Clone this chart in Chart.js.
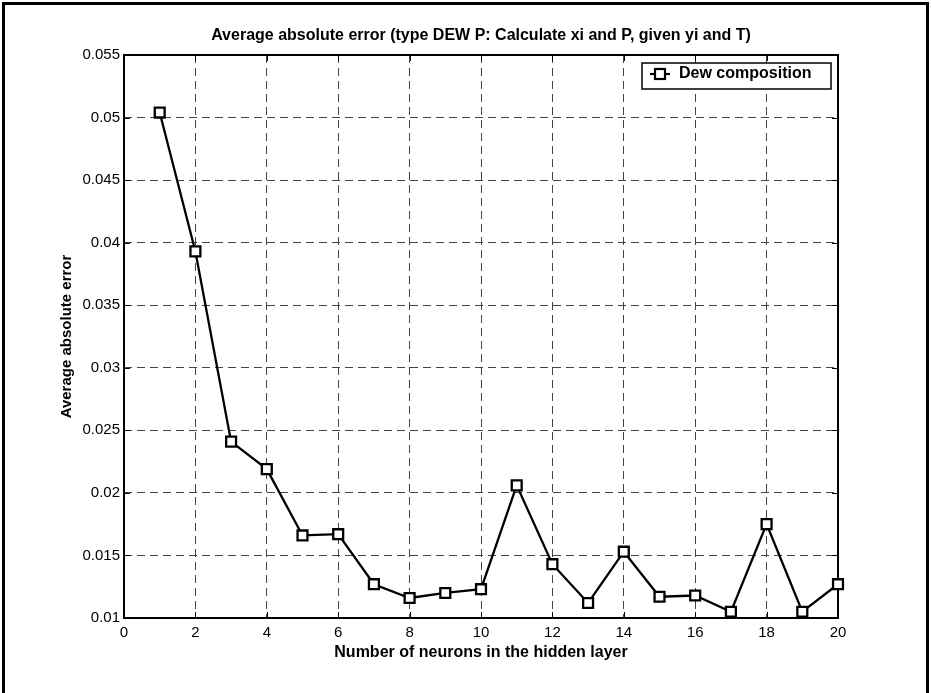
<!DOCTYPE html>
<html>
<head>
<meta charset="utf-8">
<script src="https://cdn.jsdelivr.net/npm/chart.js@4/dist/chart.umd.min.js"></script>
<style>
  html, body { margin: 0; padding: 0; background: #fff; }
  #wrap { width: 931px; height: 693px; }
</style>
</head>
<body>
<div id="wrap"><canvas id="errChart" width="931" height="693"></canvas></div>
<script>
var chartTitle = 'Average absolute error (type DEW P: Calculate xi and P, given yi and T)';
var xTitle = 'Number of neurons in the hidden layer';
var yTitle = 'Average absolute error';
var seriesLabel = 'Dew composition';

var neurons = [1, 2, 3, 4, 5, 6, 7, 8, 9, 10, 11, 12, 13, 14, 15, 16, 17, 18, 19, 20];
var avgError = [0.0504, 0.0393, 0.0241, 0.0219, 0.0166, 0.0167, 0.0127, 0.0116, 0.0120, 0.0123,
                0.0206, 0.0143, 0.0112, 0.0153, 0.0117, 0.0118, 0.0105, 0.0175, 0.0105, 0.0127];

var xTicks = [0, 2, 4, 6, 8, 10, 12, 14, 16, 18, 20];
var yTicks = [0.01, 0.015, 0.02, 0.025, 0.03, 0.035, 0.04, 0.045, 0.05, 0.055];

var fontFamily = '"Liberation Sans", Arial, Helvetica, sans-serif';

// matlab-like frame: box, inner ticks, title, legend
var matlabFrame = {
    id: 'matlabFrame',
    beforeDraw: function(chart) {
        var ctx = chart.ctx;
        ctx.save();
        ctx.fillStyle = '#fff';
        ctx.fillRect(0, 0, chart.width, chart.height);
        ctx.restore();
    },
    beforeDatasetsDraw: function(chart) {
        var ctx = chart.ctx;
        var a = chart.chartArea;
        var xs = chart.scales.x, ys = chart.scales.y;
        ctx.save();
        ctx.strokeStyle = '#000';
        ctx.lineWidth = 1;
        ctx.beginPath();
        xs.ticks.forEach(function(t) {
            var px = Math.round(xs.getPixelForValue(t.value)) + 0.5;
            ctx.moveTo(px, a.bottom); ctx.lineTo(px, a.bottom - 6);
            ctx.moveTo(px, a.top); ctx.lineTo(px, a.top + 6);
        });
        ys.ticks.forEach(function(t) {
            var py = Math.round(ys.getPixelForValue(t.value)) + 0.5;
            ctx.moveTo(a.left, py); ctx.lineTo(a.left + 6, py);
            ctx.moveTo(a.right, py); ctx.lineTo(a.right - 6, py);
        });
        ctx.stroke();
        ctx.lineWidth = 2;
        ctx.strokeRect(a.left, a.top, a.right - a.left, a.bottom - a.top);
        ctx.restore();
    },
    afterDraw: function(chart) {
        var ctx = chart.ctx;
        var a = chart.chartArea;
        ctx.save();
        // outer figure border
        ctx.strokeStyle = '#000';
        ctx.lineWidth = 3;
        ctx.strokeRect(3.5, 3.5, chart.width - 7, chart.height + 10);

        // title
        ctx.fillStyle = '#000';
        ctx.font = 'bold 16px ' + fontFamily;
        ctx.textAlign = 'center';
        ctx.textBaseline = 'middle';
        ctx.fillText(chartTitle, (a.left + a.right) / 2, 36);

        // legend box
        var ds = chart.data.datasets[0];
        var bw = 189, bh = 26;
        var bx = a.right - 7 - bw, by = a.top + 8;
        ctx.fillStyle = '#fff';
        ctx.fillRect(bx, by, bw, bh);
        ctx.lineWidth = 1.5;
        ctx.strokeRect(bx, by, bw, bh);
        var my = by + 11;
        ctx.lineWidth = 2.2;
        ctx.beginPath();
        ctx.moveTo(bx + 8, my); ctx.lineTo(bx + 28, my);
        ctx.stroke();
        ctx.fillStyle = '#fff';
        ctx.fillRect(bx + 13, my - 5, 10, 10);
        ctx.strokeRect(bx + 13, my - 5, 10, 10);
        ctx.fillStyle = '#000';
        ctx.font = 'bold 16px ' + fontFamily;
        ctx.textAlign = 'left';
        ctx.fillText(ds.label, bx + 37, my);
        ctx.restore();
    }
};

var ctx = document.getElementById('errChart').getContext('2d');
var errChart = new Chart(ctx, {
    type: 'line',
    data: {
        datasets: [{
            label: seriesLabel,
            data: neurons.map(function(n, i) { return { x: n, y: avgError[i] }; }),
            borderColor: '#000',
            borderWidth: 2.3,
            backgroundColor: '#fff',
            pointStyle: 'rect',
            pointRadius: 7,
            pointBorderWidth: 2.3,
            pointBackgroundColor: '#fff',
            pointBorderColor: '#000',
            tension: 0,
            clip: false
        }]
    },
    options: {
        responsive: false,
        animation: false,
        layout: {
            padding: { left: 0, top: 55, right: 93, bottom: 0 }
        },
        plugins: {
            legend: { display: false },
            title: { display: false },
            tooltip: { enabled: false }
        },
        scales: {
            x: {
                type: 'linear',
                min: 0,
                max: 20,
                afterBuildTicks: function(scale) {
                    scale.ticks = xTicks.map(function(v) { return { value: v }; });
                },
                afterFit: function(scale) { scale.height = 75; },
                grid: {
                    color: '#444',
                    lineWidth: 1,
                    drawTicks: false
                },
                border: { display: false, dash: [8, 5] },
                ticks: {
                    color: '#000',
                    padding: 6,
                    maxRotation: 0,
                    font: { family: fontFamily, size: 15 }
                },
                title: {
                    display: true,
                    text: xTitle,
                    color: '#000',
                    font: { family: fontFamily, size: 16, weight: 'bold' },
                    padding: { top: 0, bottom: 31 }
                }
            },
            y: {
                min: 0.01,
                max: 0.055,
                afterBuildTicks: function(scale) {
                    scale.ticks = yTicks.map(function(v) { return { value: v }; });
                },
                afterFit: function(scale) { scale.width = 124; },
                grid: {
                    color: '#444',
                    lineWidth: 1,
                    drawTicks: false
                },
                border: { display: false, dash: [8, 5] },
                ticks: {
                    color: '#000',
                    padding: 4,
                    font: { family: fontFamily, size: 15 },
                    callback: function(v) { return String(+v.toFixed(3)); }
                },
                title: {
                    display: true,
                    text: yTitle,
                    color: '#000',
                    font: { family: fontFamily, size: 15, weight: 'bold' },
                    padding: { top: 58, bottom: 0 }
                }
            }
        }
    },
    plugins: [matlabFrame]
});
</script>
</body>
</html>
